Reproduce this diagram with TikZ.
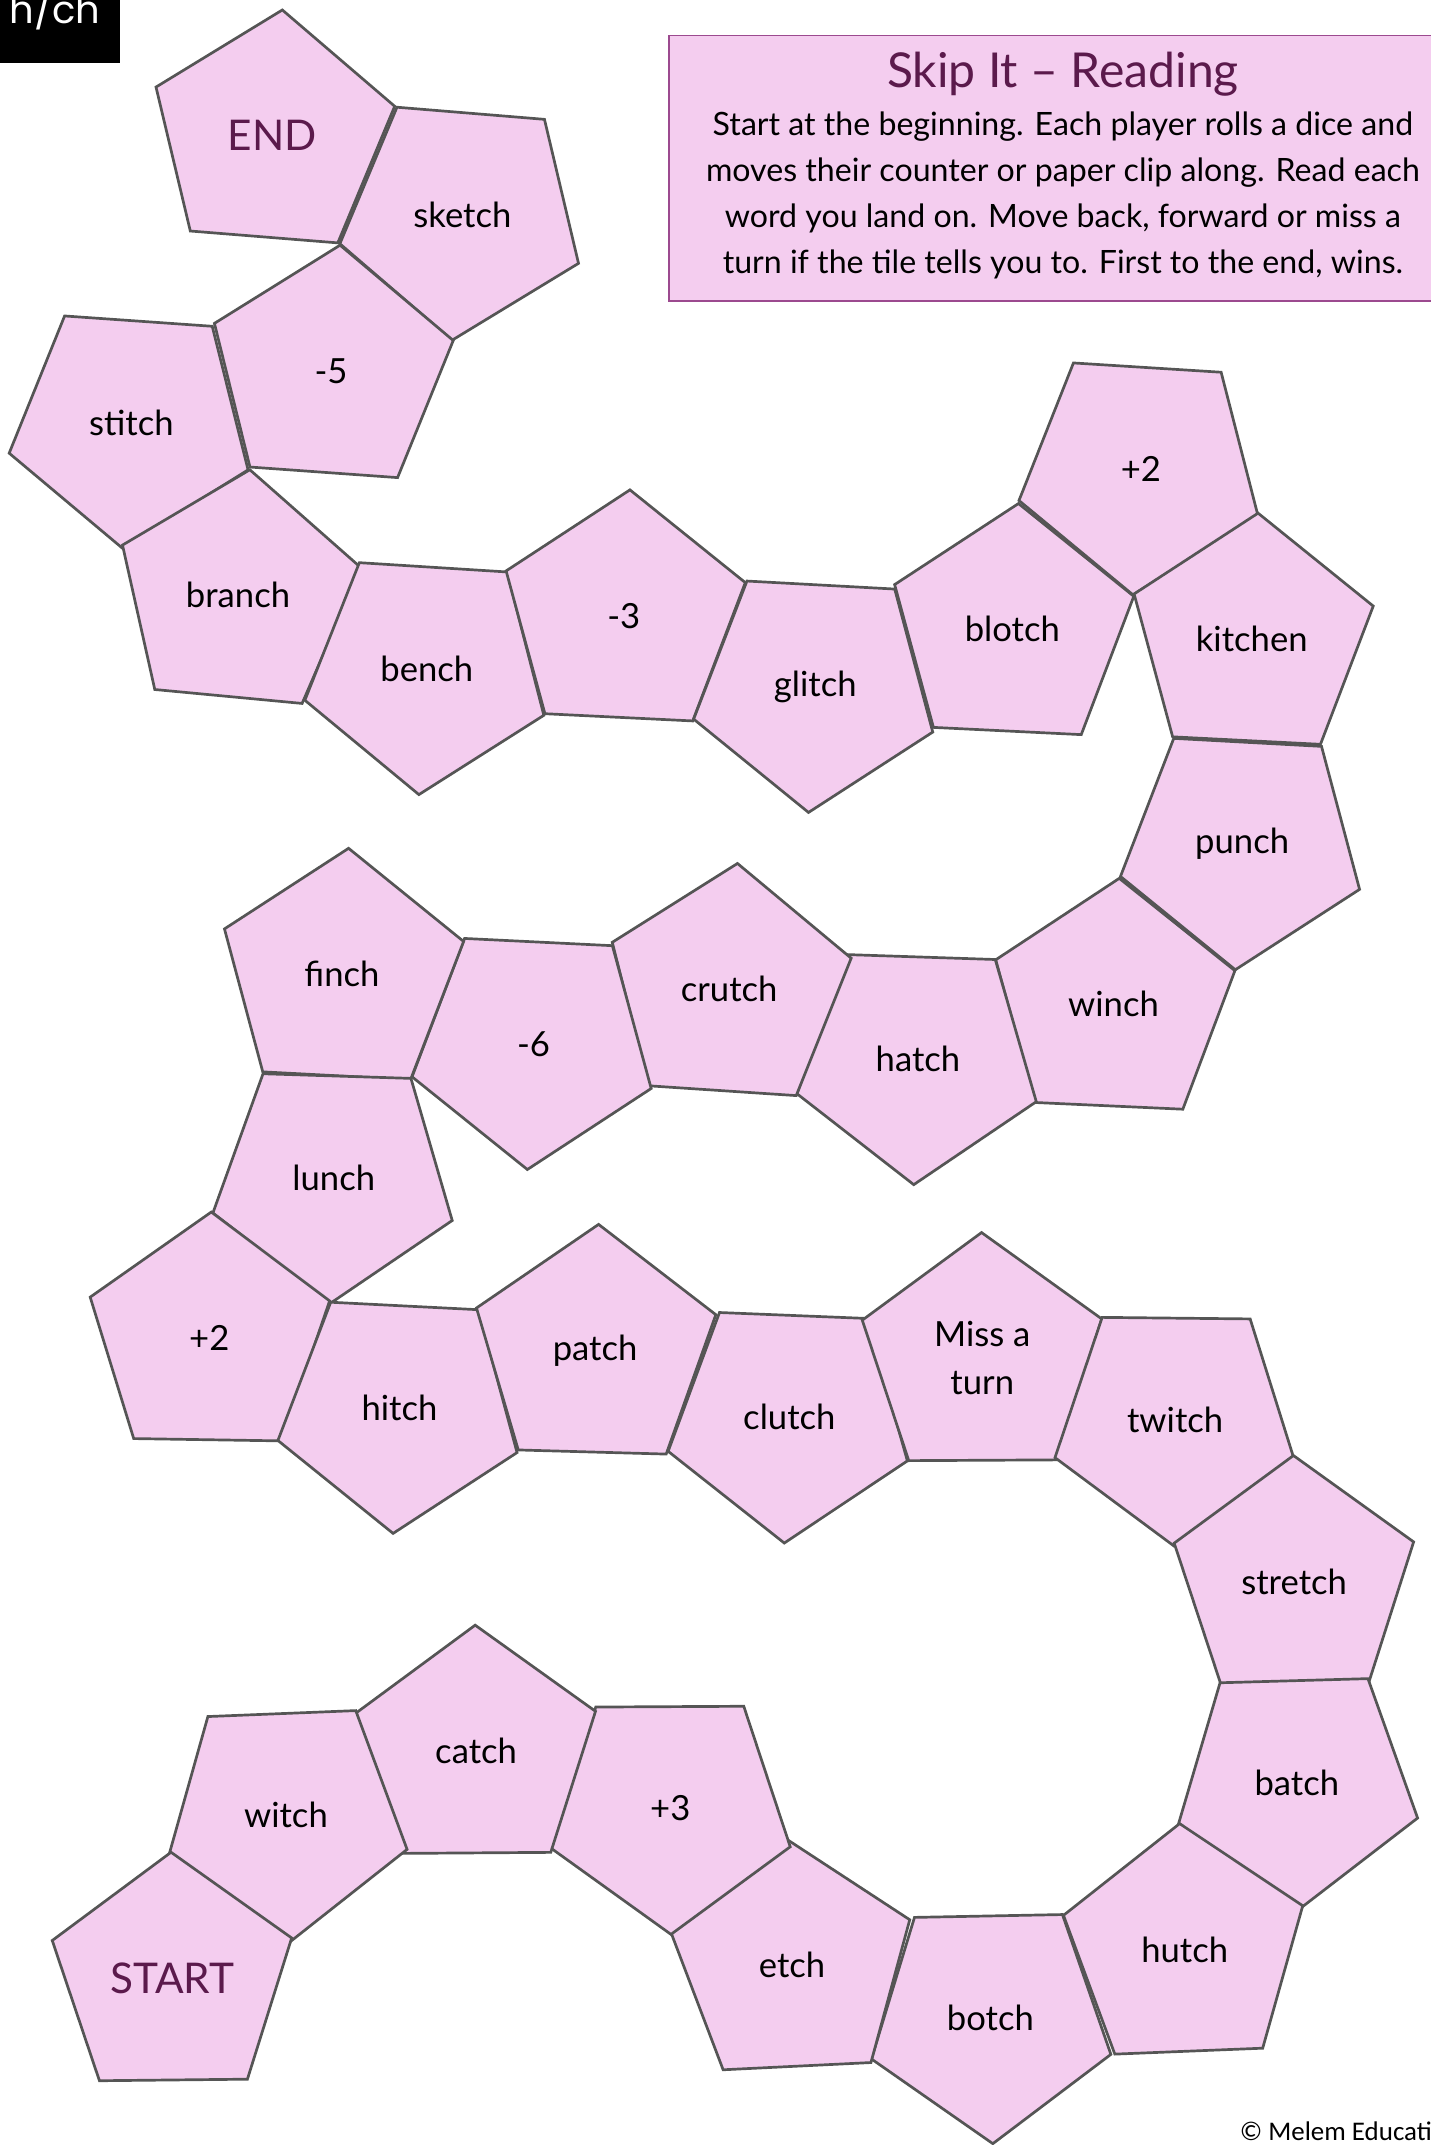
\documentclass[tikz,border=0pt]{standalone}
\usepackage{fontspec}
\setmainfont{Lato}
\newfontfamily\copyfont{Carlito}
\newfontfamily\tagfont{Poppins}
\usetikzlibrary{shapes.geometric}
\definecolor{tilepink}{HTML}{F4CDEF}
\definecolor{tileedge}{HTML}{555555}
\definecolor{plum}{HTML}{5B1A4C}
\definecolor{boxedge}{HTML}{9C4A8F}

\begin{document}
\begin{tikzpicture}[x=0.025cm,y=-0.025cm,
  tile/.style={regular polygon,regular polygon sides=5,minimum size=4.6cm,inner sep=0pt,
    draw=tileedge,fill=tilepink,line width=1.4pt,align=center,font=\fontsize{18}{25}\selectfont},
  marker/.style={text=plum,font=\fontsize{22}{26}\selectfont}]
\useasboundingbox (0,0) rectangle (1046,1568);
\clip (0,0) rectangle (1046,1568);
\fill[black] (0,0) rectangle (88,46);
\node[text=white,anchor=base west,font=\tagfont\fontsize{20}{22}\selectfont] (tag) at (2,17) {h/ch};
\draw[fill=tilepink,draw=boxedge,line width=0.9pt] (489,26) rectangle (1052,220);
\node[text=plum,font=\fontsize{25}{28}\selectfont] (title) at (777,54) {Skip It -- Reading};
\node[align=center,font=\fontsize{16.7}{24}\selectfont] (rules) at (777,143)
  {Start at the beginning. Each player rolls a dice and\\
   moves their counter or paper clip along. Read each\\
   word you land on. Move back, forward or miss a\\
   turn if the tile tells you to. First to the end, wins.};
\node[tile,marker,shape border rotate=-4.6] (endt) at (199,99) {END};
\node[tile,shape border rotate=31.3] (sketch) at (338,157) {sketch};
\node[tile,shape border rotate=-4.1] (minusfive) at (242,271) {-5};
\node[tile,shape border rotate=32] (stitch) at (96,309) {stitch};
\node[tile,shape border rotate=-5.4] (branch) at (174,435) {branch};
\node[tile,shape border rotate=32.4] (bench) at (312,489) {bench};
\node[tile,shape border rotate=-2.8] (minusthree) at (456,450) {-3};
\node[tile,shape border rotate=32.9] (glitch) at (596,502) {glitch};
\node[tile,shape border rotate=-2.8] (blotch) at (740,460) {blotch};
\node[tile,shape border rotate=32.4] (plustwoa) at (834,343) {+2};
\node[tile,shape border rotate=-2.9] (kitchen) at (915,467) {kitchen};
\node[tile,shape border rotate=32.9] (punch) at (908,617) {punch};
\node[tile,shape border rotate=-2.6] (winch) at (814,734) {winch};
\node[tile,shape border rotate=34.1] (hatch) at (671,774) {hatch};
\node[tile,shape border rotate=-3.8] (crutch) at (533,723) {crutch};
\node[tile,shape border rotate=33.2] (minussix) at (390,763) {-6};
\node[tile,shape border rotate=-3] (finch) at (250,712) {finch};
\node[tile,shape border rotate=34.2] (lunch) at (244,861) {lunch};
\node[tile,shape border rotate=-0.9] (plustwob) at (153,978) {+2};
\node[tile,shape border rotate=33.1] (hitch) at (292,1029) {hitch};
\node[tile,shape border rotate=-1.6] (patch) at (435,987) {patch};
\node[tile,shape border rotate=33.7] (clutch) at (577,1036) {clutch};
\node[tile,shape border rotate=0.3] (missturn) at (718,993) {Miss a\\turn};
\node[tile,shape border rotate=35.4] (twitch) at (859,1038) {twitch};
\node[tile,shape border rotate=0.3] (stretch) at (946,1156) {stretch};
\node[tile,shape border rotate=37.6] (batch) at (948,1303) {batch};
\node[tile,shape border rotate=2.3] (hutch) at (866,1425) {hutch};
\node[tile,shape border rotate=37.1] (botch) at (724,1475) {botch};
\node[tile,shape border rotate=2.8] (etch) at (579,1436) {etch};
\node[tile,shape border rotate=36.3] (plusthree) at (490,1322) {+3};
\node[tile,shape border rotate=0.4] (catch) at (348,1280) {catch};
\node[tile,shape border rotate=38.3] (witch) at (209,1327) {witch};
\node[tile,marker,shape border rotate=0.6] (start) at (126,1446) {START};
\node[anchor=base west,inner sep=0pt,font=\copyfont\fontsize{14}{16}\selectfont] (credit) at (906,1565) {\textcopyright\ Melem Educati};
\end{tikzpicture}
\end{document}
